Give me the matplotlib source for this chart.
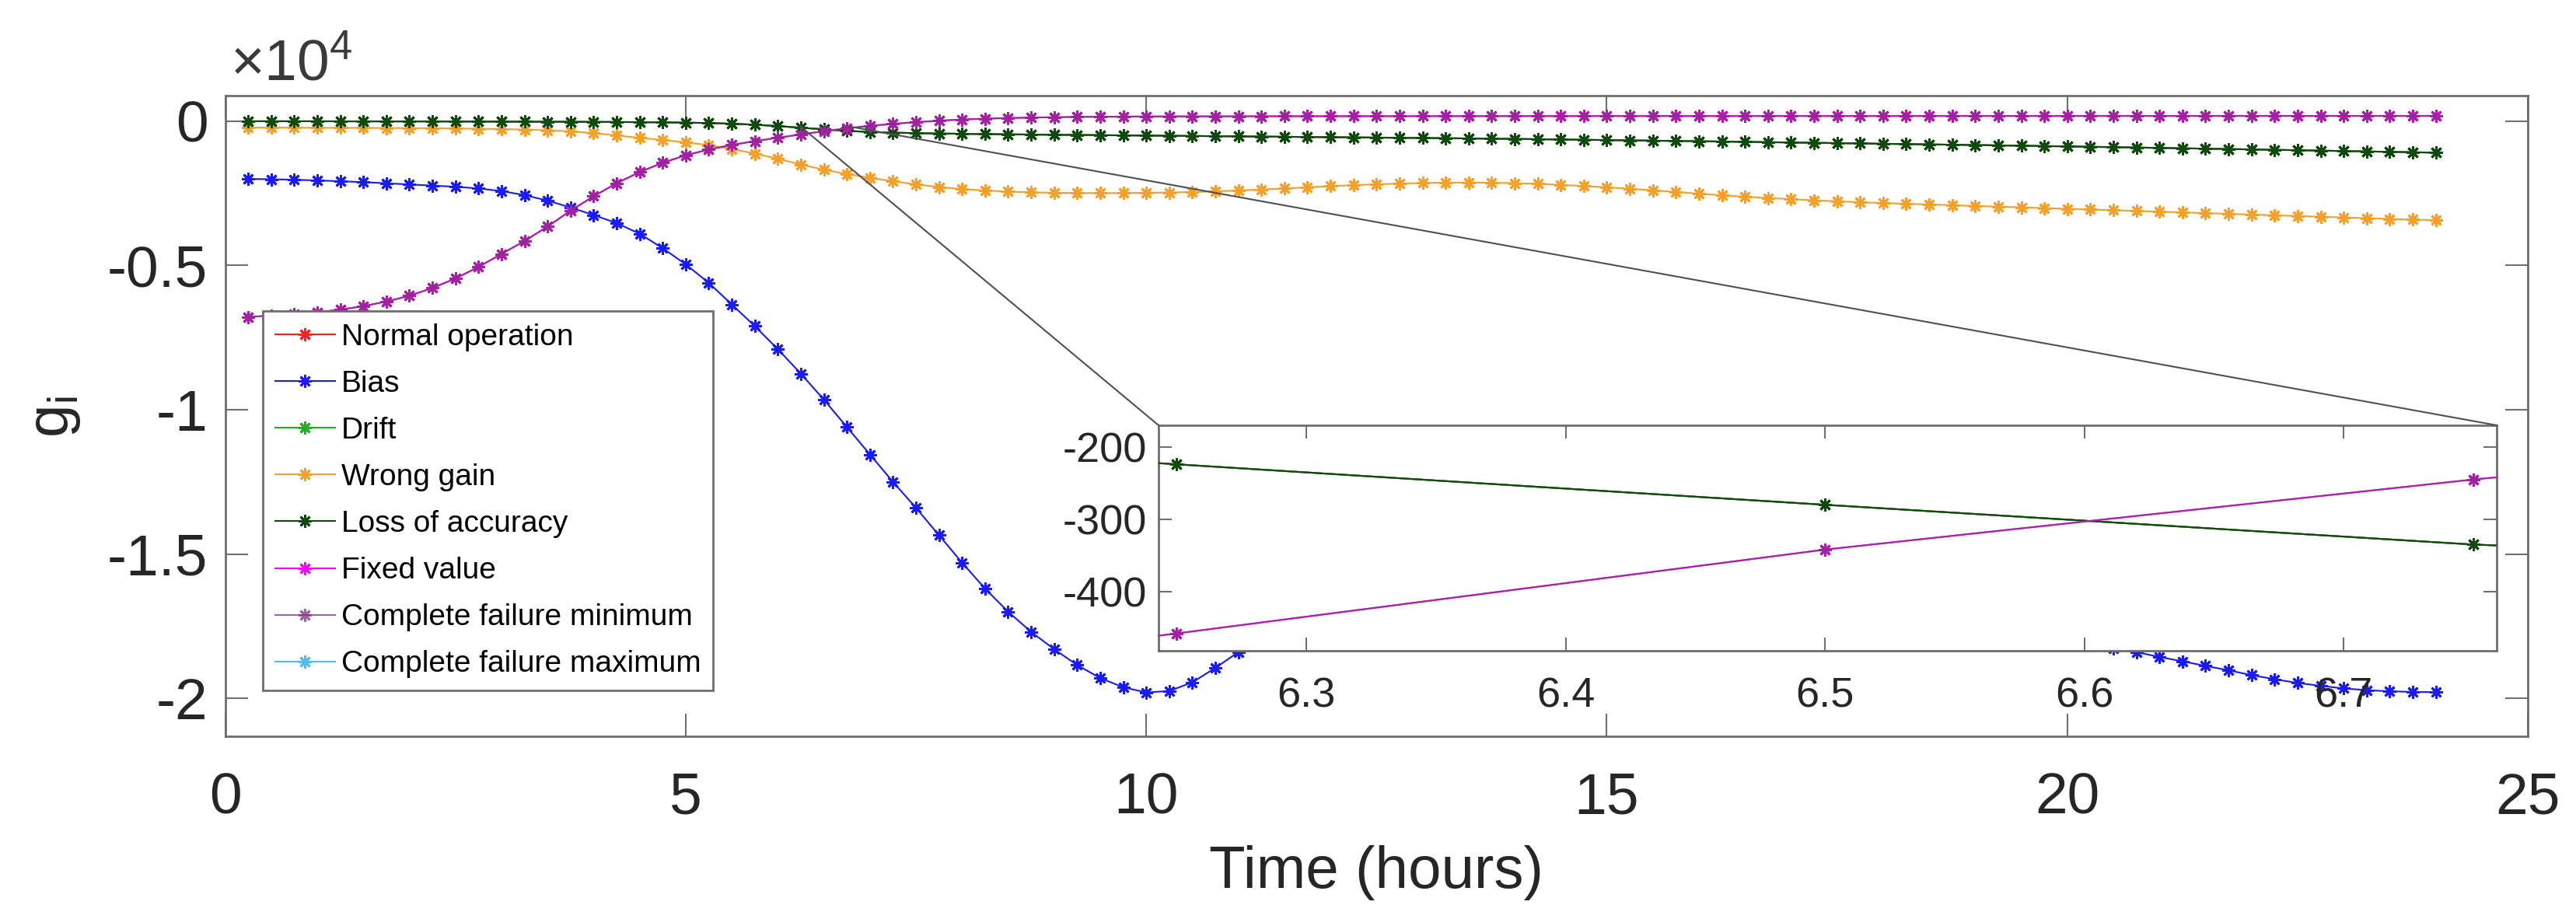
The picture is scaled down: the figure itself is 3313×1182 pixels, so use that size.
import numpy as np
import matplotlib
matplotlib.use('Agg')
import matplotlib.pyplot as plt
from matplotlib.patches import ConnectionPatch
from matplotlib.ticker import FuncFormatter

plt.rcParams['font.family'] = ['Liberation Sans', 'DejaVu Sans']
plt.rcParams['axes.unicode_minus'] = False

# sampling every 15 minutes
hours = np.arange(0.25, 24.01, 0.25)

normal = [0, 0, 0, 0, -2, -3, -4, -5,
          -6, -8, -10, -12, -14, -16, -19, -22,
          -26, -31, -38, -48, -62, -85, -120, -168,
          -224, -280, -335, -370, -395, -412, -425, -435,
          -445, -453, -461, -468, -475, -482, -489, -496,
          -503, -510, -517, -524, -531, -538, -545, -552,
          -559, -566, -573, -580, -588, -596, -604, -612,
          -622, -632, -642, -652, -662, -672, -682, -692,
          -703, -714, -725, -736, -747, -758, -769, -780,
          -791, -802, -813, -824, -836, -848, -860, -872,
          -885, -898, -911, -924, -937, -950, -963, -976,
          -990, -1004, -1018, -1032, -1046, -1060, -1074, -1088]
drift = list(normal)
loss = list(normal)
cf_max = list(normal)

bias = [-2000, -2010, -2030, -2050, -2080, -2110, -2150, -2190,
        -2230, -2270, -2330, -2420, -2560, -2750, -2990, -3250,
        -3530, -3900, -4400, -4960, -5600, -6350, -7100, -7900,
        -8750, -9650, -10600, -11550, -12500, -13400, -14350, -15300,
        -16200, -17000, -17700, -18300, -18850, -19300, -19620, -19800,
        -19750, -19450, -18950, -18400, -17800, -17150, -16500, -15900,
        -15350, -14850, -14400, -14000, -13700, -13450, -13250, -13100,
        -13000, -12950, -12950, -13000, -13100, -13250, -13450, -13700,
        -13950, -14250, -14550, -14850, -15150, -15450, -15750, -16050,
        -16350, -16650, -16900, -17150, -17400, -17620, -17830, -18000,
        -18150, -18280, -18400, -18570, -18720, -18880, -19030, -19200,
        -19340, -19470, -19570, -19660, -19720, -19760, -19780, -19790]

wrong_gain = [-220, -220, -222, -224, -227, -230, -234, -238,
              -243, -250, -260, -273, -290, -312, -350, -410,
              -495, -575, -650, -730, -830, -960, -1120, -1300,
              -1500, -1680, -1830, -1960, -2080, -2190, -2280, -2350,
              -2400, -2440, -2465, -2480, -2487, -2490, -2488, -2480,
              -2470, -2455, -2430, -2400, -2365, -2330, -2290, -2250,
              -2215, -2185, -2160, -2142, -2130, -2125, -2130, -2145,
              -2170, -2205, -2245, -2290, -2340, -2395, -2450, -2510,
              -2565, -2615, -2660, -2700, -2740, -2775, -2805, -2835,
              -2860, -2885, -2910, -2935, -2960, -2985, -3010, -3035,
              -3060, -3085, -3110, -3135, -3160, -3185, -3210, -3235,
              -3260, -3285, -3310, -3335, -3360, -3385, -3410, -3430]

cf_min = [-6780, -6740, -6690, -6620, -6530, -6410, -6250, -6050,
          -5780, -5450, -5050, -4600, -4150, -3650, -3100, -2600,
          -2150, -1760, -1440, -1180, -980, -820, -690, -570,
          -458, -342, -245, -160, -90, -30, 20, 60,
          90, 112, 128, 140, 150, 157, 162, 166,
          168, 170, 171, 172, 173, 174, 175, 175,
          176, 176, 177, 177, 178, 178, 178, 179,
          179, 179, 180, 180, 180, 180, 181, 181,
          181, 181, 181, 182, 182, 182, 182, 182,
          182, 183, 183, 183, 183, 183, 183, 183,
          184, 184, 184, 184, 184, 184, 184, 184,
          185, 185, 185, 185, 185, 185, 185, 185]
fixed = list(cf_min)

labels = ['Normal operation', 'Bias', 'Drift', 'Wrong gain',
          'Loss of accuracy', 'Fixed value', 'Complete failure minimum',
          'Complete failure maximum']
series = [normal, bias, drift, wrong_gain, loss, fixed, cf_min, cf_max]
colors = ['#ff2020', '#1a1aff', '#22b022', '#f5a02a',
          '#0e4a0e', '#ff00ff', '#8a2b8a', '#4dbeee']
zorders = [3, 3, 4, 3, 5, 6, 7, 1]
alphas = [1, 1, 1, 1, 1, 1, 0.75, 1]

mark = (8, 2, 0)
fig = plt.figure(figsize=(33.13, 11.82), dpi=100)
ax = fig.add_axes([0.0874, 0.1988, 0.8939, 0.6972])

handles = []
for y, lab, c, z, a in zip(series, labels, colors, zorders, alphas):
    h, = ax.plot(hours, y, '-', marker=mark, color=c, lw=1.5, ms=12,
                 mew=2, label=lab, zorder=z, alpha=a)
    handles.append(h)

ax.set_xlim(0, 25)
ax.set_ylim(-21320, 890)
ax.set_xticks([0, 5, 10, 15, 20, 25])
ax.set_yticks([-20000, -15000, -10000, -5000, 0])
ax.yaxis.set_major_formatter(FuncFormatter(lambda v, p: '%g' % (v / 1e4)))
ax.tick_params(direction='in', length=21, width=1.5, top=True, right=True,
               labelsize=54, colors='#707070', labelcolor='#262626')
ax.tick_params(axis='x', pad=33)
ax.tick_params(axis='y', pad=16)
for s in ax.spines.values():
    s.set_color('#6e6e6e')
    s.set_linewidth(2)

leg = ax.legend(handles=handles, loc='upper left',
                bbox_to_anchor=(338 / 3313, 1 - 400 / 1182),
                bbox_transform=fig.transFigure, fontsize=28,
                labelspacing=0.62, handlelength=2.0, handletextpad=0.2,
                borderpad=0.4, borderaxespad=0, fancybox=False,
                framealpha=1, edgecolor='#6e6e6e')
leg.get_frame().set_linewidth(2)
leg.set_zorder(20)

fig.text(296 / 3313, 1 - 103 / 1182, r'$\mathregular{\times10^{4}}$',
         fontsize=54, ha='left', va='baseline', color='#3a3a3a')
fig.text(1770 / 3313, 1 - 1123 / 1182, 'Time (hours)', fontsize=55,
         ha='center', va='center', color='#262626')
fig.text(70 / 3313, 1 - 536 / 1182, r'$\mathregular{g_i}$', fontsize=55,
         rotation=90, ha='center', va='center', color='#262626')

# zoomed inset
axin = fig.add_axes([1490 / 3313, 1 - 837 / 1182, 1721 / 3313, 290 / 1182])
for y, c, z, a in zip(series, colors, zorders, alphas):
    axin.plot(hours, y, '-', marker=mark, color=c, lw=1.5, ms=12,
              mew=2, zorder=z, alpha=a)
x0, x1, y0, y1 = 6.243, 6.759, -482, -170
axin.set_xlim(x0, x1)
axin.set_ylim(y0, y1)
axin.set_xticks([6.3, 6.4, 6.5, 6.6, 6.7])
axin.set_yticks([-400, -300, -200])
axin.tick_params(direction='in', length=12, width=1.5, top=True, right=True,
                 labelsize=39, colors='#707070', labelcolor='#262626')
axin.tick_params(axis='x', pad=24)
axin.tick_params(axis='y', pad=11)
for s in axin.spines.values():
    s.set_color('#6e6e6e')
    s.set_linewidth(2)

for xa, xb in [(x0, 0), (x1, 1)]:
    con = ConnectionPatch(xyA=(xa, y1), coordsA=ax.transData,
                          xyB=(xb, 1), coordsB=axin.transAxes,
                          color='#505050', lw=1.5, zorder=8)
    fig.add_artist(con)

fig.savefig('out.png', dpi=100)
